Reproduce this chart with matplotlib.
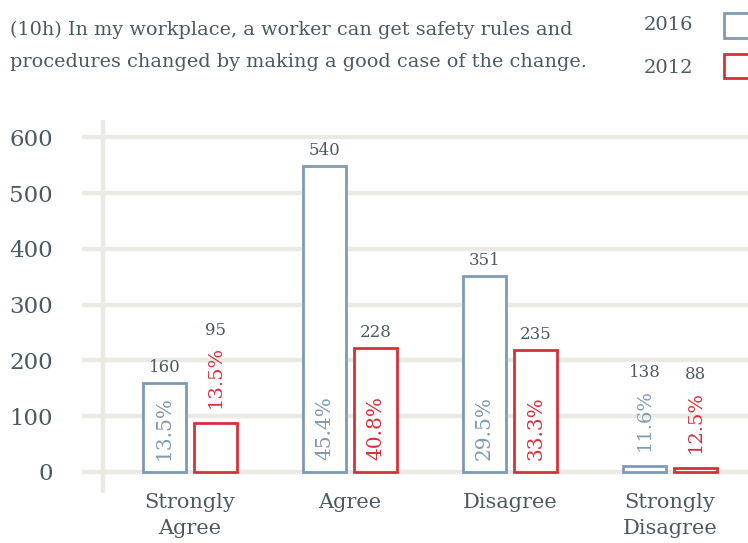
import matplotlib
matplotlib.use("Agg")
import matplotlib.pyplot as plt
from matplotlib.patches import Rectangle

# data
categories = ["Strongly\nAgree", "Agree", "Disagree", "Strongly\nDisagree"]
heights_2016 = [160, 549, 352, 11]
heights_2012 = [87, 222, 218, 7]
counts_2016 = ["160", "540", "351", "138"]
counts_2012 = ["95", "228", "235", "88"]
pct_2016 = ["13.5%", "45.4%", "29.5%", "11.6%"]
pct_2012 = ["13.5%", "40.8%", "33.3%", "12.5%"]
y_ticks = [0, 100, 200, 300, 400, 500, 600]

BLUE = "#7e9bb4"
RED = "#d6303b"
TEXT = "#4a5a63"
GRID = "#ebe9e3"
FONT = "DejaVu Serif"

plt.rcParams["font.family"] = FONT

fig = plt.figure(figsize=(7.48, 5.43), dpi=100)
ax = fig.add_axes([82 / 748, 1 - 494.3 / 543, 666 / 748, (494.3 - 114.9) / 543])
ax.set_xlim(-0.675, 3.4875)
ax.set_ylim(-40, 640)

for s in ax.spines.values():
    s.set_visible(False)

for t in y_ticks:
    ax.axhline(t, color=GRID, lw=3.2, zorder=0)
ax.plot([-0.544, -0.544], [-38, 630], color=GRID, lw=3.2, zorder=0,
        solid_capstyle="butt")

ax.set_yticks(y_ticks)
ax.set_yticklabels([str(t) for t in y_ticks], fontsize=16.5, color=TEXT)
ax.tick_params(axis="y", length=0, pad=21)
ax.set_xticks(range(len(categories)))
ax.set_xticklabels(categories, fontsize=15, color=TEXT, linespacing=1.5)
ax.tick_params(axis="x", length=0, pad=-1)

width = 0.27
offset = 0.16

def draw(xs, heights, counts, pcts, color):
    for x, h, c, p in zip(xs, heights, counts, pcts):
        ax.bar(x, h, width=width, facecolor="white", edgecolor=color,
               linewidth=2, zorder=2)
        if h > 120:
            ax.text(x, 22, p, rotation=90, ha="center", va="bottom",
                    fontsize=14.5, color=color, zorder=3)
            ax.annotate(c, (x, h), xytext=(0, 5), textcoords="offset points",
                        ha="center", va="bottom", fontsize=12, color=TEXT)
        else:
            ax.annotate(p, (x, h), xytext=(0, 11), textcoords="offset points",
                        ha="center", va="bottom", fontsize=14, color=color,
                        rotation=90)
            ax.annotate(c, (x, h), xytext=(0, 61), textcoords="offset points",
                        ha="center", va="bottom", fontsize=12, color=TEXT)

xs = list(range(len(categories)))
draw([x - offset for x in xs], heights_2016, counts_2016, pct_2016, BLUE)
draw([x + offset for x in xs], heights_2012, counts_2012, pct_2012, RED)

# title
fig.text(10 / 748, 1 - 30 / 543, "(10h) In my workplace, a worker can get safety rules and",
         fontsize=13.9, color=TEXT, va="center", ha="left")
fig.text(10 / 748, 1 - 62 / 543, "procedures changed by making a good case of the change.",
         fontsize=13.9, color=TEXT, va="center", ha="left")

# legend
fig.text(693 / 748, 1 - 25 / 543, "2016", fontsize=14, color=TEXT, va="center", ha="right")
fig.text(693 / 748, 1 - 68 / 543, "2012", fontsize=14, color=TEXT, va="center", ha="right")
fig.patches.append(Rectangle((724 / 748, 1 - 38 / 543), 40 / 748, 25 / 543,
                             transform=fig.transFigure, facecolor="white",
                             edgecolor=BLUE, lw=2))
fig.patches.append(Rectangle((724 / 748, 1 - 78 / 543), 40 / 748, 24 / 543,
                             transform=fig.transFigure, facecolor="white",
                             edgecolor=RED, lw=2))

fig.savefig("out.png", dpi=100, facecolor="white")
